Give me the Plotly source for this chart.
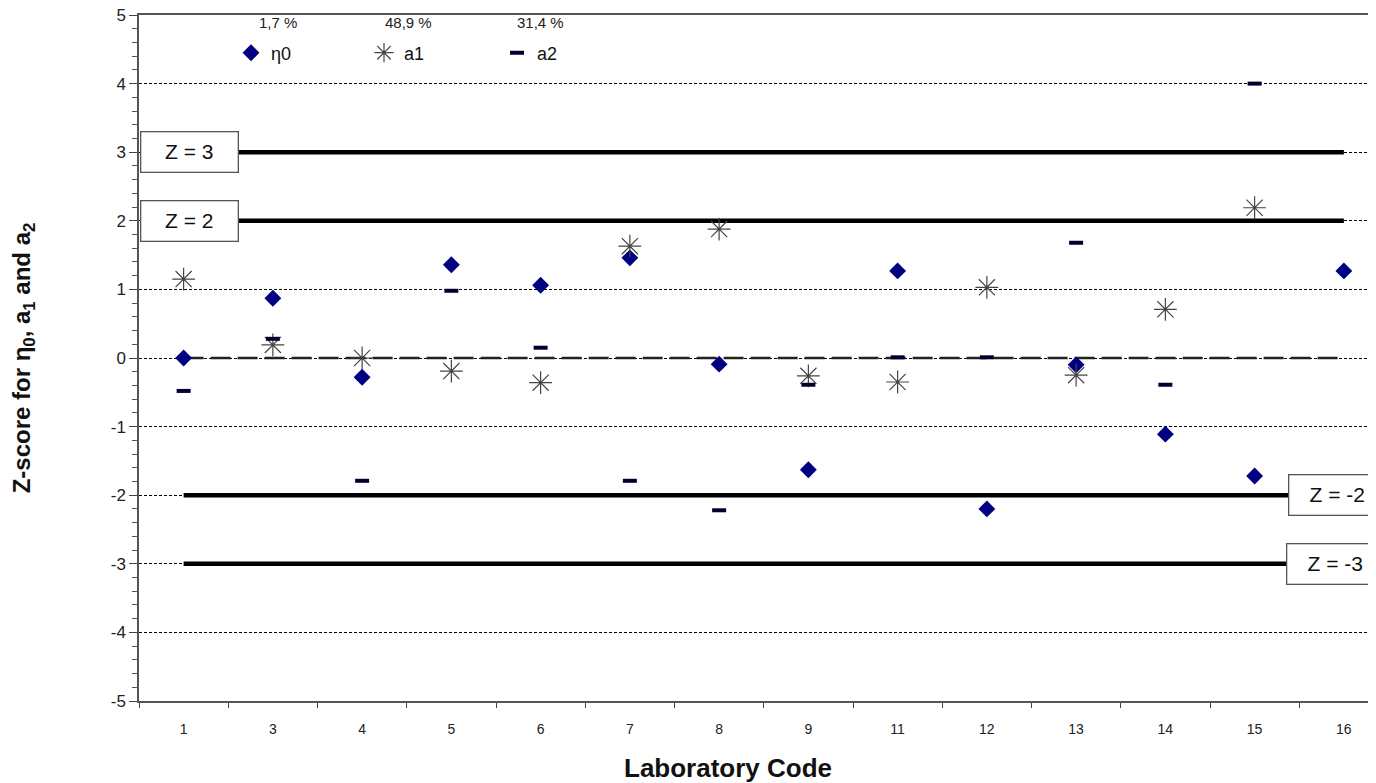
import plotly.graph_objects as go

labs = ["1", "3", "4", "5", "6", "7", "8", "9", "11", "12", "13", "14", "15", "16"]
eta0 = [0.0, 0.87, -0.28, 1.36, 1.06, 1.46, -0.09, -1.63, 1.27, -2.2, -0.1, -1.11, -1.72, 1.27]
a1 = [1.15, 0.19, 0.0, -0.19, -0.36, 1.63, 1.88, -0.26, -0.35, 1.03, -0.25, 0.71, 2.19, None]
a2 = [-0.48, 0.28, -1.79, 0.98, 0.15, -1.79, -2.22, -0.39, 0.01, 0.01, 1.68, -0.39, 4.0, None]
pct = ["1,7 %", "48,9 %", "31,4 %"]
limits = [3, 2, -2, -3]
limit_txt = ["Z = 3", "Z = 2", "Z = -2", "Z = -3"]
yticks = [-5, -4, -3, -2, -1, 0, 1, 2, 3, 4, 5]
ytick_txt = ["-5", "-4", "-3", "-2", "-1", "0", "1", "2", "3", "4", "5"]

FONT = "Liberation Sans, Arial, sans-serif"
fig = go.Figure()

# limit lines
for v in limits:
    fig.add_trace(go.Scatter(x=labs, y=[v] * len(labs), mode="lines",
                             line=dict(color="black", width=4.5),
                             showlegend=False, hoverinfo="skip"))
fig.add_trace(go.Scatter(x=labs, y=[0] * len(labs), mode="lines",
                         line=dict(color="#222", width=2.5, dash="20px,7px"),
                         showlegend=False, hoverinfo="skip"))

fig.add_trace(go.Scatter(x=labs, y=eta0, mode="markers", name="η0",
                         marker=dict(symbol="diamond", size=13, color="#000080")))
fig.add_trace(go.Scatter(x=labs, y=a1, mode="markers", name="a1",
                         marker=dict(symbol="asterisk-open", size=19, color="#444",
                                     line=dict(color="#444", width=1.2))))
fig.add_trace(go.Scatter(x=labs, y=a2, mode="markers", name="a2",
                         marker=dict(symbol="line-ew-open", size=10, color="#000030",
                                     line=dict(color="#000030", width=4))))

# percentages above legend
for t, xp in zip(pct, [278, 408, 540]):
    fig.add_annotation(text=t, xref="paper", yref="paper",
                       x=(xp - 139) / 1237, y=(701 - 22) / 686,
                       showarrow=False, font=dict(family=FONT, size=15, color="#222"),
                       xanchor="center", yanchor="middle")

# limit boxes
box_x = [-0.5, -0.5, 12.40, 12.37]
box_shift = [1, 1, -2, -2]
for v, t, bx, sh in zip(limits, limit_txt, box_x, box_shift):
    fig.add_annotation(text=t, x=bx, y=v, xref="x", yref="y", showarrow=False,
                       xanchor="left", yanchor="middle", xshift=sh,
                       width=94, height=37, bgcolor="white",
                       bordercolor="#555", borderwidth=1.3,
                       font=dict(family=FONT, size=21, color="#111"))

# x axis title
fig.add_annotation(text="<b>Laboratory Code</b>", xref="paper", yref="paper",
                   x=(728 - 139) / 1237, y=(701 - 768) / 686, showarrow=False,
                   xanchor="center", yanchor="middle",
                   font=dict(family=FONT, size=26, color="#111"))

fig.update_layout(
    width=1368, height=775,
    margin=dict(l=131, r=0, t=7, b=82),
    paper_bgcolor="white", plot_bgcolor="white",
    font=dict(family=FONT, color="#222"),
    legend=dict(orientation="h", x=(231 - 139) / 1237, xanchor="left",
                y=(701 - 53) / 686, yanchor="middle",
                entrywidth=88, entrywidthmode="pixels",
                font=dict(family=FONT, size=18, color="#111"),
                bgcolor="rgba(0,0,0,0)"),
    xaxis=dict(type="category", range=[-0.5, 13.36], tickson="boundaries",
               automargin=False,
               ticks="outside", ticklen=5, tickcolor="#444",
               showline=True, linecolor="#555", linewidth=1.5, mirror=True,
               showgrid=False, zeroline=False,
               tickfont=dict(family=FONT, size=14, color="#222"),
               ticklabelstandoff=14),
    yaxis=dict(range=[-5, 5], tickvals=yticks, ticktext=ytick_txt,
               automargin=False, ticklabeloverflow="allow",
               ticks="outside", ticklen=8, tickcolor="#444",
               showline=True, linecolor="#555", linewidth=1.5,
               showgrid=True, gridcolor="black", gridwidth=1, griddash="3px,2px",
               zeroline=False,
               minor=dict(dtick=0.2, ticks="outside", ticklen=5, tickcolor="#555",
                          showgrid=False),
               tickfont=dict(family=FONT, size=17, color="#222"),
               title=dict(text="<b>Z-score for η<sub>0</sub>, a<sub>1</sub> and a<sub>2</sub></b>",
                          standoff=73, font=dict(family=FONT, size=24, color="#111"))),
)

fig.write_html("out.html")
